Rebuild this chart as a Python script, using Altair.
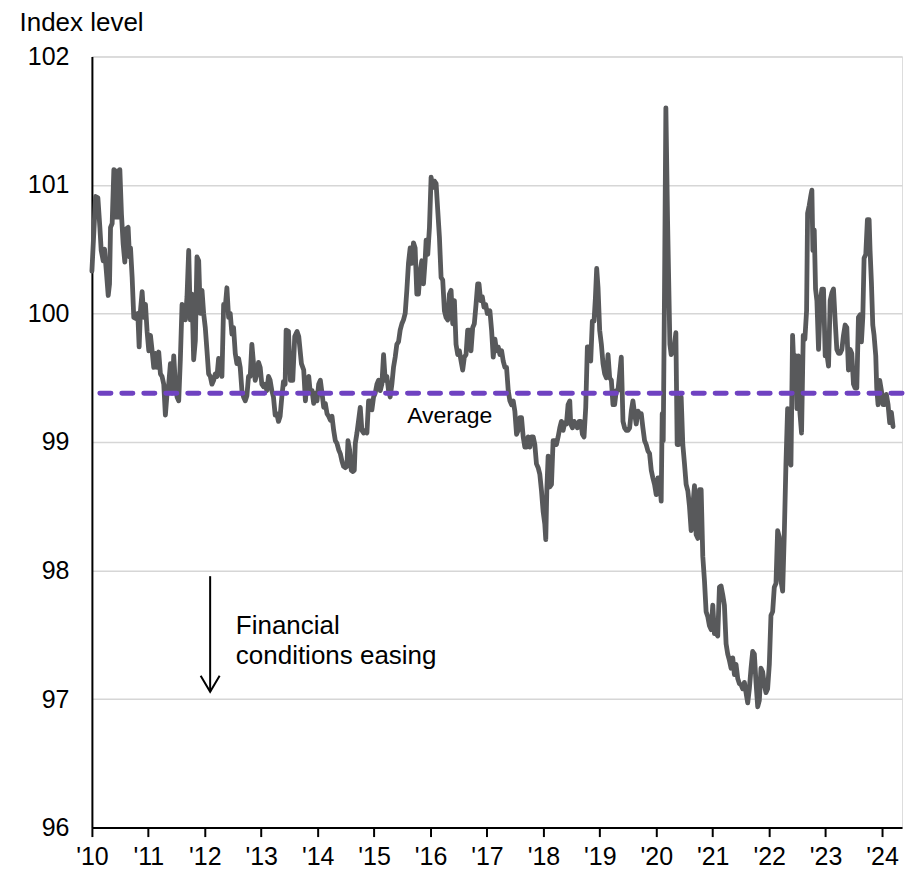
import altair as alt
import pandas as pd

# ---- data: decimal year and index level ----
years_a = [2010.000, 2010.065, 2010.106, 2010.141, 2010.165, 2010.200, 2010.224, 2010.259, 2010.289, 2010.312,
           2010.330, 2010.359, 2010.389, 2010.424, 2010.448, 2010.477, 2010.495, 2010.524, 2010.554, 2010.583,
           2010.613, 2010.642, 2010.666, 2010.684, 2010.713, 2010.742, 2010.784, 2010.813, 2010.837, 2010.860,
           2010.890, 2010.919, 2010.949, 2010.978, 2011.008, 2011.037, 2011.067, 2011.096, 2011.126, 2011.155,
           2011.184, 2011.214, 2011.243, 2011.273, 2011.302, 2011.332, 2011.361, 2011.391, 2011.420, 2011.450,
           2011.479, 2011.509, 2011.538, 2011.567, 2011.597, 2011.626, 2011.656, 2011.685, 2011.715, 2011.744,
           2011.774, 2011.803, 2011.833, 2011.862, 2011.892, 2011.921, 2011.951, 2011.980, 2012.009, 2012.039,
           2012.068, 2012.098, 2012.127, 2012.157, 2012.186, 2012.216, 2012.245, 2012.275, 2012.304, 2012.334,
           2012.363, 2012.392, 2012.422, 2012.451, 2012.481, 2012.510, 2012.540, 2012.569, 2012.599, 2012.628,
           2012.658, 2012.687, 2012.717, 2012.746, 2012.775, 2012.805, 2012.834, 2012.864, 2012.893, 2012.923,
           2012.952, 2012.982, 2013.011, 2013.041, 2013.070, 2013.100, 2013.129, 2013.158, 2013.188, 2013.217,
           2013.247, 2013.276, 2013.306, 2013.335, 2013.365, 2013.394, 2013.424, 2013.441, 2013.483]
values_a = [100.33, 100.91, 100.90, 100.67, 100.49, 100.41, 100.50, 100.31, 100.14, 100.23,
            100.67, 100.70, 101.12, 100.75, 101.11, 100.75, 101.12, 100.77, 100.54, 100.40,
            100.66, 100.67, 100.44, 100.51, 100.28, 99.97, 99.96, 100.00, 99.74, 100.02,
            100.17, 99.97, 100.07, 99.86, 99.71, 99.83, 99.71, 99.58, 99.69, 99.58,
            99.70, 99.53, 99.51, 99.45, 99.21, 99.38, 99.45, 99.61, 99.38, 99.67,
            99.45, 99.35, 99.32, 99.64, 100.07, 100.05, 99.95, 100.13, 100.49, 99.95,
            100.15, 99.64, 99.79, 100.44, 100.41, 100.00, 100.18, 100.00, 99.89, 99.71,
            99.53, 99.51, 99.45, 99.48, 99.53, 99.51, 99.65, 99.58, 99.51, 100.07,
            100.05, 100.20, 99.97, 100.00, 99.84, 99.89, 99.69, 99.61, 99.65, 99.58,
            99.40, 99.35, 99.32, 99.36, 99.51, 99.51, 99.76, 99.61, 99.48, 99.53,
            99.62, 99.58, 99.45, 99.43, 99.45, 99.40, 99.51, 99.48, 99.40, 99.35,
            99.21, 99.22, 99.16, 99.20, 99.35, 99.47, 99.45, 99.87, 99.86]

years_b = [2013.517, 2013.559, 2013.594, 2013.635, 2013.665, 2013.712, 2013.753, 2013.783, 2013.812, 2013.842,
           2013.871, 2013.901, 2013.930, 2013.959, 2013.989, 2014.018, 2014.048, 2014.077, 2014.107, 2014.136,
           2014.166, 2014.195, 2014.225, 2014.254, 2014.284, 2014.313, 2014.342, 2014.372, 2014.401, 2014.431,
           2014.460, 2014.490, 2014.519, 2014.537, 2014.566, 2014.596, 2014.625, 2014.649, 2014.667, 2014.696,
           2014.726, 2014.755, 2014.784, 2014.814, 2014.843, 2014.873, 2014.902, 2014.932, 2014.961, 2014.991,
           2015.020, 2015.050, 2015.079, 2015.109, 2015.138, 2015.168, 2015.197, 2015.226, 2015.256, 2015.285,
           2015.315, 2015.344, 2015.374, 2015.403, 2015.433, 2015.462, 2015.492, 2015.521, 2015.551, 2015.580,
           2015.609, 2015.639, 2015.668, 2015.698, 2015.727, 2015.757, 2015.786, 2015.816, 2015.845, 2015.875,
           2015.904, 2015.922, 2015.951, 2015.981, 2016.010, 2016.040, 2016.069, 2016.099, 2016.128, 2016.158,
           2016.187, 2016.216, 2016.246, 2016.275, 2016.305, 2016.334, 2016.364, 2016.393, 2016.423, 2016.452,
           2016.482, 2016.511, 2016.541, 2016.570, 2016.599, 2016.629, 2016.658, 2016.688, 2016.717, 2016.747,
           2016.776, 2016.806, 2016.835, 2016.859, 2016.888, 2016.918, 2016.947, 2016.977, 2017.006]
values_b = [99.48, 99.48, 99.82, 99.86, 99.82, 99.61, 99.56, 99.32, 99.48, 99.51,
            99.38, 99.40, 99.30, 99.38, 99.32, 99.45, 99.48, 99.38, 99.27, 99.30,
            99.22, 99.20, 99.17, 99.20, 99.09, 99.01, 98.99, 98.94, 98.91, 98.85,
            98.81, 98.80, 98.81, 99.01, 98.94, 98.78, 98.77, 98.78, 98.99, 99.07,
            99.17, 99.27, 99.09, 99.07, 99.09, 99.07, 99.32, 99.32, 99.25, 99.35,
            99.38, 99.45, 99.48, 99.40, 99.45, 99.68, 99.48, 99.51, 99.40, 99.35,
            99.45, 99.58, 99.66, 99.76, 99.78, 99.87, 99.92, 99.95, 100.00, 100.18,
            100.39, 100.51, 100.39, 100.55, 100.51, 100.15, 100.15, 100.33, 100.41, 100.23,
            100.41, 100.57, 100.46, 100.67, 101.06, 100.98, 101.03, 101.01, 100.80, 100.59,
            100.28, 100.26, 100.02, 99.97, 99.95, 100.15, 100.18, 99.92, 100.10, 99.76,
            99.68, 99.71, 99.63, 99.56, 99.66, 99.68, 99.87, 99.87, 99.71, 99.89,
            99.92, 100.07, 100.23, 100.23, 100.10, 100.13, 100.05, 100.07, 100.00]

years_c = [2017.052, 2017.082, 2017.111, 2017.141, 2017.170, 2017.200, 2017.229, 2017.259, 2017.288, 2017.318,
           2017.347, 2017.377, 2017.406, 2017.436, 2017.465, 2017.494, 2017.524, 2017.553, 2017.583, 2017.612,
           2017.642, 2017.671, 2017.701, 2017.730, 2017.760, 2017.789, 2017.819, 2017.848, 2017.877, 2017.907,
           2017.936, 2017.966, 2017.995, 2018.025, 2018.042, 2018.060, 2018.084, 2018.113, 2018.143, 2018.172,
           2018.202, 2018.231, 2018.261, 2018.290, 2018.319, 2018.349, 2018.378, 2018.408, 2018.437, 2018.467,
           2018.484, 2018.514, 2018.543, 2018.573, 2018.602, 2018.632, 2018.661, 2018.691, 2018.720, 2018.750,
           2018.779, 2018.809, 2018.838, 2018.867, 2018.897, 2018.921, 2018.944, 2018.968, 2018.997, 2019.027,
           2019.056, 2019.086, 2019.115, 2019.145, 2019.174, 2019.204, 2019.233, 2019.262, 2019.292, 2019.321,
           2019.351, 2019.380, 2019.410, 2019.439, 2019.469, 2019.498, 2019.528, 2019.557, 2019.586, 2019.616,
           2019.645, 2019.675, 2019.704, 2019.734, 2019.763, 2019.793, 2019.822, 2019.852, 2019.881, 2019.911,
           2019.940, 2019.969, 2019.999, 2020.028, 2020.058, 2020.087, 2020.105, 2020.123, 2020.146, 2020.170,
           2020.200, 2020.241, 2020.264, 2020.294, 2020.323, 2020.347, 2020.370, 2020.394, 2020.417, 2020.441,
           2020.470, 2020.500, 2020.529]
values_c = [100.02, 99.87, 99.66, 99.80, 99.71, 99.74, 99.68, 99.71, 99.63, 99.58,
            99.58, 99.40, 99.32, 99.29, 99.32, 99.24, 99.06, 99.09, 99.19, 99.19,
            99.04, 98.96, 98.96, 99.04, 98.96, 99.04, 99.04, 98.98, 98.83, 98.80,
            98.75, 98.62, 98.46, 98.36, 98.24, 98.62, 98.89, 98.65, 98.67, 99.01,
            99.01, 98.98, 99.04, 99.11, 99.16, 99.09, 99.15, 99.14, 99.29, 99.32,
            99.14, 99.11, 99.16, 99.14, 99.11, 99.16, 99.16, 99.06, 99.04, 99.27,
            99.74, 99.74, 99.63, 99.94, 99.94, 100.12, 100.35, 100.20, 99.87, 99.76,
            99.61, 99.53, 99.50, 99.68, 99.50, 99.48, 99.29, 99.29, 99.40, 99.40,
            99.53, 99.66, 99.16, 99.11, 99.09, 99.09, 99.11, 99.24, 99.32, 99.22,
            99.14, 99.24, 99.22, 99.22, 99.11, 99.01, 98.98, 98.93, 98.91, 98.78,
            98.72, 98.67, 98.59, 98.72, 98.72, 98.54, 99.22, 99.01, 100.18, 101.60,
            100.72, 99.76, 99.68, 99.71, 99.76, 99.85, 98.98, 98.98, 99.32, 99.35,
            98.98, 98.83, 98.67]

years_d = [2020.559, 2020.588, 2020.618, 2020.647, 2020.677, 2020.706, 2020.736, 2020.765, 2020.795, 2020.824,
           2020.854, 2020.883, 2020.913, 2020.942, 2020.972, 2021.001, 2021.030, 2021.060, 2021.089, 2021.119,
           2021.148, 2021.178, 2021.207, 2021.237, 2021.266, 2021.296, 2021.325, 2021.355, 2021.384, 2021.413,
           2021.443, 2021.472, 2021.502, 2021.531, 2021.561, 2021.590, 2021.620, 2021.649, 2021.679, 2021.708,
           2021.738, 2021.767, 2021.797, 2021.826, 2021.855, 2021.885, 2021.914, 2021.944, 2021.973, 2022.003,
           2022.032, 2022.062, 2022.091, 2022.121, 2022.150, 2022.180, 2022.209, 2022.239, 2022.268, 2022.297,
           2022.327, 2022.356, 2022.386, 2022.415, 2022.445, 2022.474, 2022.492, 2022.516, 2022.545, 2022.574,
           2022.604, 2022.633, 2022.663, 2022.681, 2022.710, 2022.740, 2022.757, 2022.775, 2022.799, 2022.822,
           2022.846, 2022.875, 2022.905, 2022.934, 2022.963, 2022.993, 2023.022, 2023.052, 2023.081, 2023.111,
           2023.140, 2023.170, 2023.199, 2023.229, 2023.258, 2023.288, 2023.317, 2023.346, 2023.376, 2023.405,
           2023.435, 2023.464, 2023.494, 2023.523, 2023.553, 2023.582, 2023.612, 2023.635, 2023.659, 2023.682,
           2023.712, 2023.741, 2023.771, 2023.788, 2023.812, 2023.836, 2023.859, 2023.889, 2023.906, 2023.930,
           2023.959, 2023.989, 2024.018, 2024.048, 2024.077, 2024.107, 2024.136, 2024.166, 2024.195]
values_d = [98.62, 98.50, 98.31, 98.50, 98.66, 98.28, 98.25, 98.63, 98.63, 98.11,
            97.92, 97.68, 97.64, 97.57, 97.54, 97.73, 97.51, 97.51, 97.49, 97.87,
            97.88, 97.81, 97.73, 97.43, 97.35, 97.30, 97.24, 97.32, 97.19, 97.27,
            97.16, 97.12, 97.11, 97.08, 97.13, 97.05, 96.97, 97.08, 97.24, 97.37,
            97.35, 97.13, 96.94, 96.99, 97.24, 97.21, 97.11, 97.05, 97.08, 97.27,
            97.65, 97.68, 97.87, 97.90, 98.31, 98.26, 97.92, 97.84, 98.28, 98.82,
            99.26, 98.85, 98.82, 99.83, 99.50, 99.67, 99.26, 99.67, 99.23, 99.07,
            99.83, 99.80, 100.02, 100.78, 100.84, 100.92, 100.96, 100.49, 100.65, 100.19,
            100.10, 99.72, 100.08, 100.19, 100.19, 99.67, 99.69, 99.59, 100.10, 100.16,
            100.19, 99.94, 99.72, 99.69, 99.69, 99.72, 99.83, 99.91, 99.89, 99.56,
            99.72, 99.69, 99.45, 99.42, 99.42, 99.97, 99.99, 99.78, 99.97, 100.43,
            100.46, 100.73, 100.73, 100.49, 100.24, 99.91, 99.83, 99.67, 99.42, 99.29,
            99.48, 99.40, 99.29, 99.29, 99.37, 99.29, 99.15, 99.23, 99.12]

average_level = 99.38
year_ticks = list(range(2010, 2025))
level_ticks = [96, 97, 98, 99, 100, 101, 102]

FONT = "Liberation Sans"

series = pd.DataFrame({
    "year": years_a + years_b + years_c + years_d,
    "level": values_a + values_b + values_c + values_d,
})
series["order"] = range(len(series))

x_scale = alt.Scale(domain=[2010, 2024.354], nice=False, zero=False)
y_scale = alt.Scale(domain=[96, 102], nice=False, zero=False)

x_axis = alt.Axis(
    values=year_ticks,
    labelExpr="\"'\" + substring(toString(datum.value), 2, 4)",
    grid=False, tickSize=9, tickWidth=2, tickColor="black",
    domainColor="black", domainWidth=2,
    labelFont=FONT, labelFontSize=25, labelColor="black", labelPadding=8,
    labelFlush=False, labelOverlap=False, title=None,
)
y_axis = alt.Axis(
    values=level_ticks, format="d", ticks=False, grid=True, gridColor="#d6d6d6", gridWidth=1.5,
    domainColor="black", domainWidth=2,
    labelFont=FONT, labelFontSize=25, labelColor="black", labelPadding=23,
    title="Index level", titleAngle=0, titleAlign="left", titleBaseline="top",
    titleX=-73, titleY=-47, titleFont=FONT, titleFontSize=26, titleFontWeight="normal",
    titleColor="black",
)

line = alt.Chart(series).mark_line(
    color="#58595b", strokeWidth=4.8, strokeJoin="round", strokeCap="round"
).encode(
    x=alt.X("year:Q", scale=x_scale, axis=x_axis),
    y=alt.Y("level:Q", scale=y_scale, axis=y_axis),
    order="order:Q",
)

avg = alt.Chart(pd.DataFrame({"level": [average_level]})).mark_rule(
    color="#6f42c1", strokeWidth=5, strokeDash=[11, 11], strokeCap="round"
).encode(y=alt.Y("level:Q", scale=y_scale))

avg_label = alt.Chart(pd.DataFrame({"year": [2016.34], "level": [99.15], "text": ["Average"]})).mark_text(
    align="center", baseline="alphabetic", font=FONT, fontSize=23, color="black"
).encode(x=alt.X("year:Q", scale=x_scale), y=alt.Y("level:Q", scale=y_scale), text="text:N")

# arrow annotation ("Financial conditions easing")
arrow_x = 2012.095
arrow_top = 97.956
arrow_tip = 97.057
shaft = alt.Chart(pd.DataFrame({"year": [arrow_x], "top": [arrow_top], "tip": [arrow_tip]})).mark_rule(
    color="black", strokeWidth=2
).encode(x=alt.X("year:Q", scale=x_scale), y=alt.Y("top:Q", scale=y_scale), y2="tip:Q")

head = alt.Chart(pd.DataFrame({
    "year": [arrow_x - 0.168, arrow_x, arrow_x + 0.168],
    "level": [arrow_tip + 0.125, arrow_tip, arrow_tip + 0.125],
})).mark_line(color="black", strokeWidth=2, strokeJoin="miter").encode(
    x=alt.X("year:Q", scale=x_scale), y=alt.Y("level:Q", scale=y_scale)
)

ease_text = alt.Chart(pd.DataFrame({
    "year": [2012.55], "level": [97.505], "text": [["Financial", "conditions easing"]]
})).mark_text(
    align="left", baseline="alphabetic", font=FONT, fontSize=26, lineHeight=29.5, color="black"
).encode(x=alt.X("year:Q", scale=x_scale), y=alt.Y("level:Q", scale=y_scale), text="text")

chart = alt.layer(line, avg, avg_label, shaft, head, ease_text).properties(
    width=811, height=772,
    autosize=alt.AutoSizeParams(type="none"),
    padding={"left": 84, "top": 48, "right": 10, "bottom": 43},
).configure_view(stroke=None).configure(background="white")

chart.save("out.html", embed_options={"renderer": "svg", "actions": False})
